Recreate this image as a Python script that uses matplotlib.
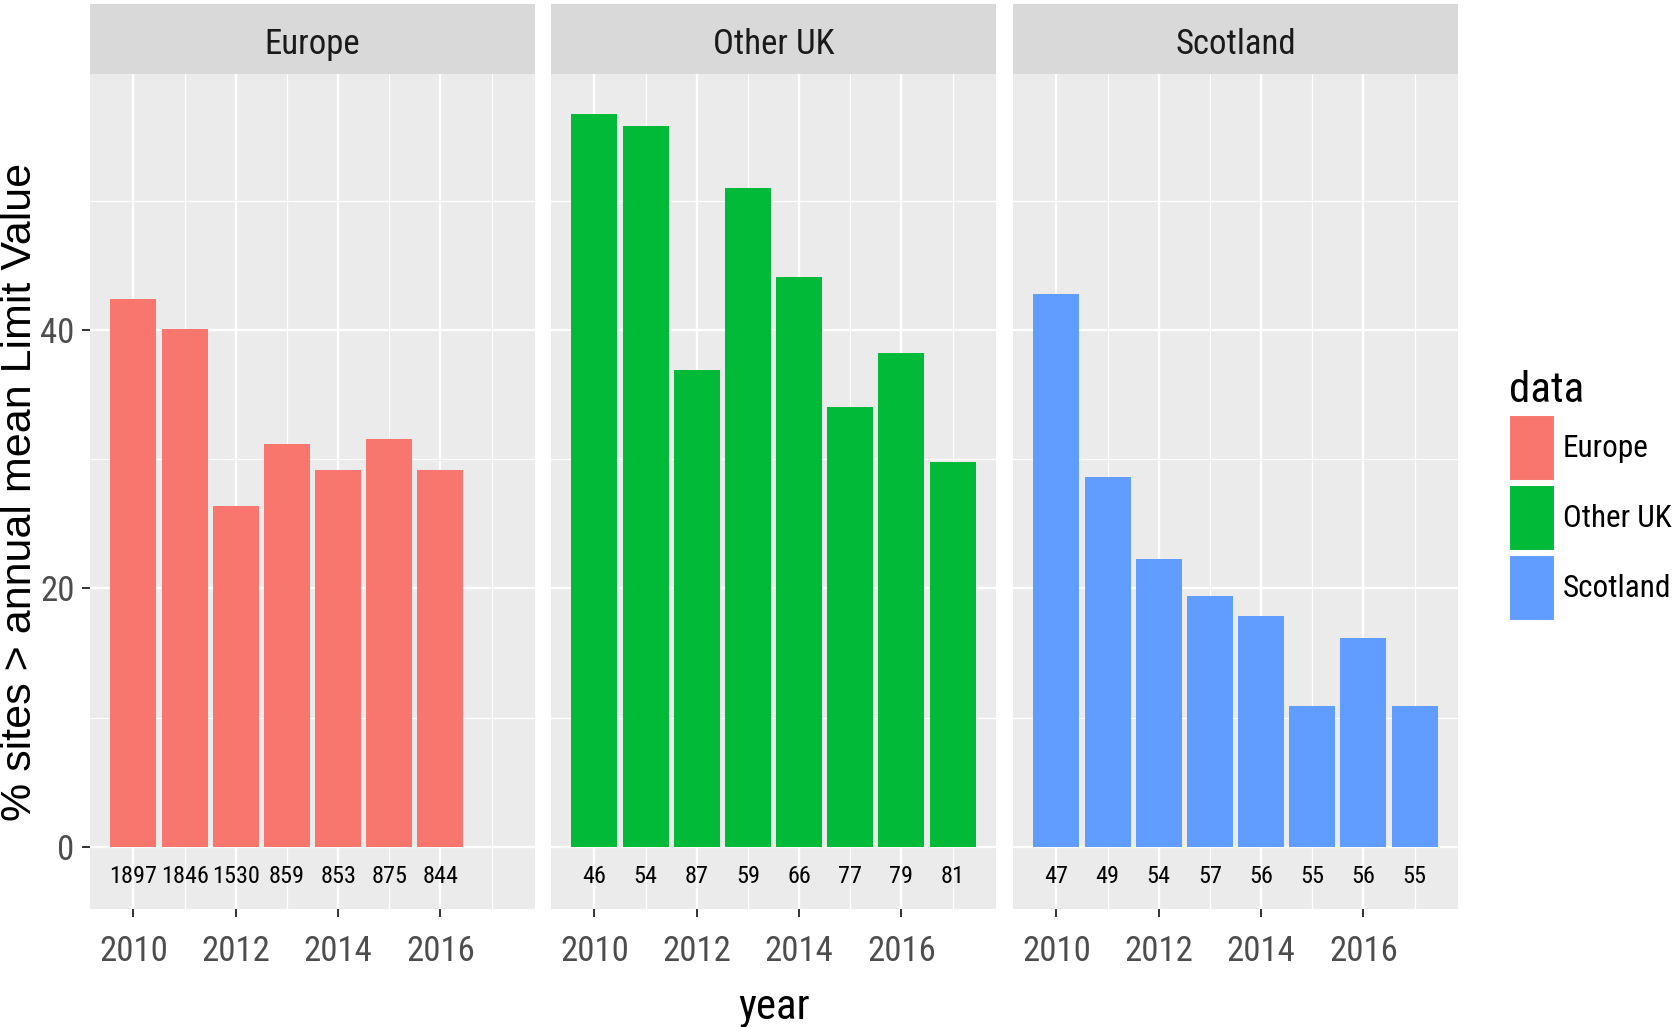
import numpy as np
import matplotlib
matplotlib.use("Agg")
import matplotlib.pyplot as plt
from matplotlib.patches import Patch

# values
years_europe = [2010, 2011, 2012, 2013, 2014, 2015, 2016]
europe_pct = [42.4, 40.1, 26.4, 31.2, 29.2, 31.6, 29.2]
europe_n = [1897, 1846, 1530, 859, 853, 875, 844]

years_uk = [2010, 2011, 2012, 2013, 2014, 2015, 2016, 2017]
otheruk_pct = [56.7, 55.8, 36.9, 51.0, 44.1, 34.0, 38.2, 29.8]
otheruk_n = [46, 54, 87, 59, 66, 77, 79, 81]

scotland_pct = [42.8, 28.6, 22.3, 19.4, 17.9, 10.9, 16.2, 10.9]
scotland_n = [47, 49, 54, 57, 56, 55, 56, 55]

facets = ["Europe", "Other UK", "Scotland"]
colors = {"Europe": "#F8766D", "Other UK": "#00BA38", "Scotland": "#619CFF"}
panel_data = {
    "Europe": (years_europe, europe_pct, europe_n),
    "Other UK": (years_uk, otheruk_pct, otheruk_n),
    "Scotland": (years_uk, scotland_pct, scotland_n),
}

narrow = ['Liberation Sans Narrow', 'Arial Narrow', 'Roboto Condensed', 'Archivo Narrow',
          'Liberation Sans', 'DejaVu Sans']
plt.rcParams['font.family'] = narrow

W, H = 1677, 1027
fig = plt.figure(figsize=(W / 100, H / 100), dpi=100)

lefts = [90, 551, 1013]
pw = 445
p_top, p_bot = 74, 909
s_top = 4

for i, name in enumerate(facets):
    ax = fig.add_axes([lefts[i] / W, 1 - p_bot / H, pw / W, (p_bot - p_top) / H])
    ax.set_facecolor("#EBEBEB")
    yrs, pct, n = panel_data[name]
    ax.bar(yrs, pct, 0.9, color=colors[name], zorder=3)
    for x, c in zip(yrs, n):
        ax.text(x, -2.3, str(c), ha="center", va="center", fontsize=17.5, color="black", zorder=4)
    ax.set_xlim(2009.15, 2017.85)
    ax.set_ylim(-4.8, 59.8)
    ax.set_xticks([2010, 2012, 2014, 2016])
    ax.set_xticks([2011, 2013, 2015, 2017], minor=True)
    ax.set_yticks([0, 20, 40])
    ax.set_yticks([10, 30, 50], minor=True)
    ax.grid(which="major", color="white", linewidth=1.7, zorder=0)
    ax.grid(which="minor", color="white", linewidth=0.9, zorder=0)
    ax.set_axisbelow(True)
    for sp in ax.spines.values():
        sp.set_visible(False)
    ax.tick_params(axis="x", which="major", length=6, width=1.4, color="#333333",
                   labelsize=25, labelcolor="#4D4D4D", pad=12.5)
    ax.tick_params(axis="both", which="minor", length=0)
    if i == 0:
        ax.tick_params(axis="y", which="major", length=6, width=1.4, color="#333333",
                       labelsize=25, labelcolor="#4D4D4D", pad=5)
    else:
        ax.tick_params(axis="y", which="major", length=0, labelleft=False)

    sax = fig.add_axes([lefts[i] / W, 1 - p_top / H, pw / W, (p_top - s_top) / H])
    sax.set_facecolor("#D9D9D9")
    sax.set_xticks([])
    sax.set_yticks([])
    for sp in sax.spines.values():
        sp.set_visible(False)
    sax.text(0.5, 0.42, name, ha="center", va="center", fontsize=25, color="#1A1A1A",
             transform=sax.transAxes)

fig.text(20 / W, 1 - 492 / H, "% sites > annual mean Limit Value", rotation=90,
         ha="center", va="center", fontsize=31, color="black", family=["Liberation Sans", "DejaVu Sans"])
fig.text(774 / W, 1 - 1008 / H, "year", ha="center", va="center", fontsize=31, color="black")

handles = [Patch(facecolor=colors[f], edgecolor="white", linewidth=1.5) for f in facets]
leg = fig.legend(handles, facets, loc="upper left", bbox_to_anchor=(1509 / W, 1 - 370 / H),
                 frameon=False, fontsize=22.5, title="data", title_fontsize=31,
                 handlelength=1.47, handleheight=2.85, handletextpad=0.25, labelspacing=0.14,
                 alignment="left", borderaxespad=0, borderpad=0)

fig.savefig("out.png", dpi=100, facecolor="white")
